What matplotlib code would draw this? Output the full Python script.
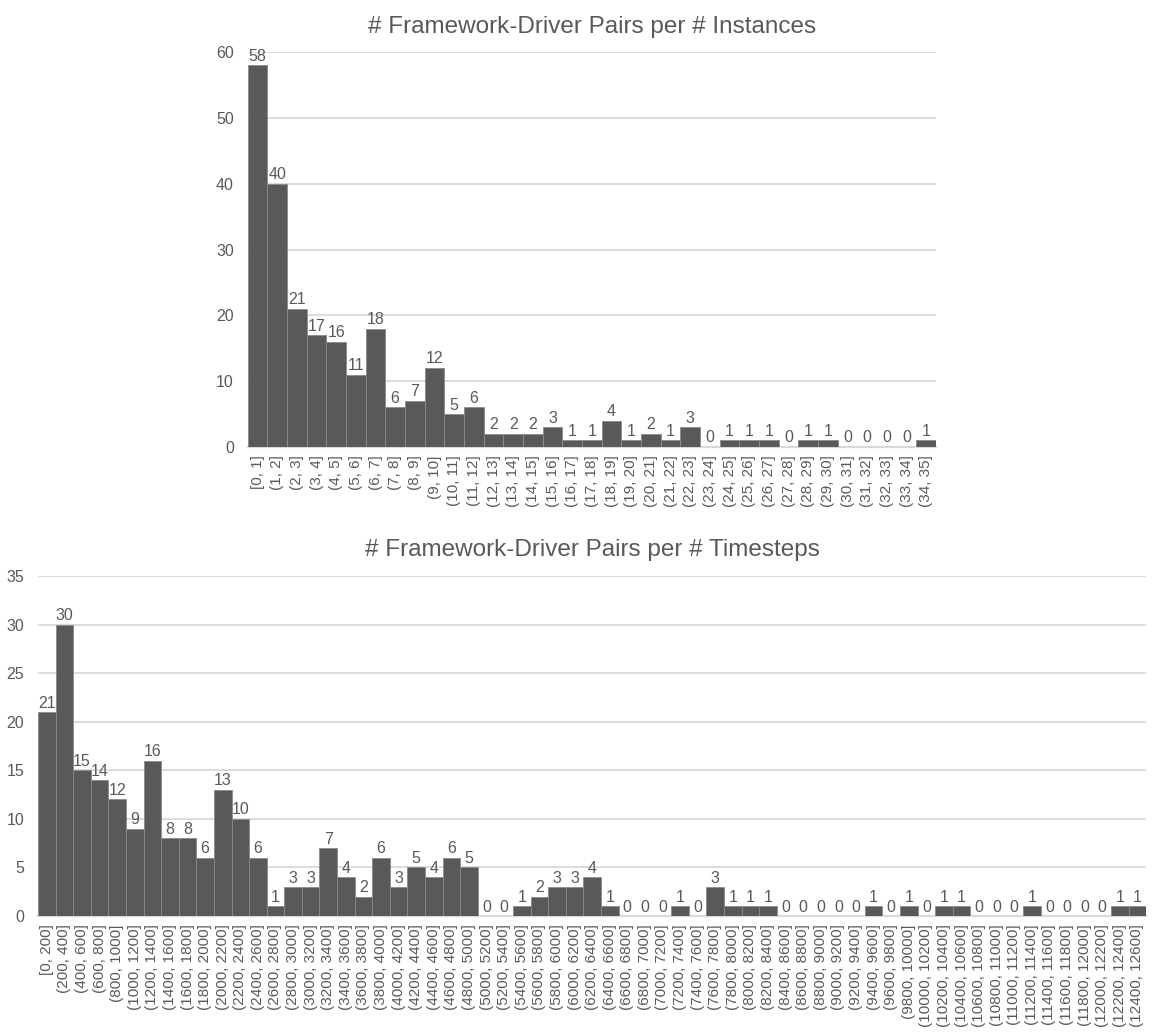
import matplotlib.pyplot as plt
import numpy as np

plt.rcParams['font.family'] = ['Liberation Sans', 'DejaVu Sans']

# histogram counts, instances per pair
inst_labels = ["[0, 1]"] + [f"({i}, {i + 1}]" for i in range(1, 35)]
inst_counts = [58, 40, 21, 17, 16, 11, 18, 6, 7, 12, 5, 6, 2, 2, 2, 3, 1, 1, 4, 1,
               2, 1, 3, 0, 1, 1, 1, 0, 1, 1, 0, 0, 0, 0, 1]

# histogram counts, timesteps per pair (bins of 200)
ts_labels = ["[0, 200]"] + [f"({i}, {i + 200}]" for i in range(200, 12600, 200)]
ts_counts = [21, 30, 15, 14, 12, 9, 16, 8, 8, 6, 13, 10, 6, 1, 3, 3, 7, 4, 2, 6,
             3, 5, 4, 6, 5, 0, 0, 1, 2, 3, 3, 4, 1, 0, 0, 0, 1, 0, 3, 1,
             1, 1, 0, 0, 0, 0, 0, 1, 0, 1, 0, 1, 1, 0, 0, 0, 1, 0, 0, 0,
             0, 1, 1]

BAR = '#595959'
TXT = '#595959'
GRID = '#d9d9d9'


def draw(ax, labels, counts, ymax, ystep, title):
    x = np.arange(len(counts))
    bars = ax.bar(x, counts, width=1.0, color=BAR, edgecolor='#8a8a8a', linewidth=0.6, zorder=3)
    for b, v in zip(bars, counts):
        ax.text(b.get_x() + b.get_width() / 2, v + ymax * 0.004, str(v), ha='center', va='bottom',
                fontsize=11.5, color=TXT, zorder=4)
    ax.set_xlim(-0.5, len(counts) - 0.5)
    ax.set_ylim(0, ymax)
    ax.set_yticks(np.arange(0, ymax + 1, ystep))
    ax.set_xticks(x)
    ax.set_xticklabels(labels, rotation=90, fontsize=11, color=TXT)
    ax.tick_params(axis='y', labelsize=11.5, labelcolor=TXT, length=0, pad=10)
    ax.tick_params(axis='x', length=0, pad=6)
    ax.grid(axis='y', color=GRID, linewidth=1.3, zorder=0)
    for s in ['top', 'right', 'left']:
        ax.spines[s].set_visible(False)
    ax.spines['bottom'].set_color(GRID)
    ax.spines['bottom'].set_linewidth(1.6)
    ax.set_title(title, fontsize=17.5, color=TXT, pad=14)


fig = plt.figure(figsize=(11.52, 10.34), dpi=100)
ax1 = fig.add_axes([0.215, 0.5677, 0.5975, 0.382])
ax2 = fig.add_axes([0.033, 0.1141, 0.962, 0.3289])

draw(ax1, inst_labels, inst_counts, 60, 10, "# Framework-Driver Pairs per # Instances")
draw(ax2, ts_labels, ts_counts, 35, 5, "# Framework-Driver Pairs per # Timesteps")

fig.savefig("out.png", dpi=100)
